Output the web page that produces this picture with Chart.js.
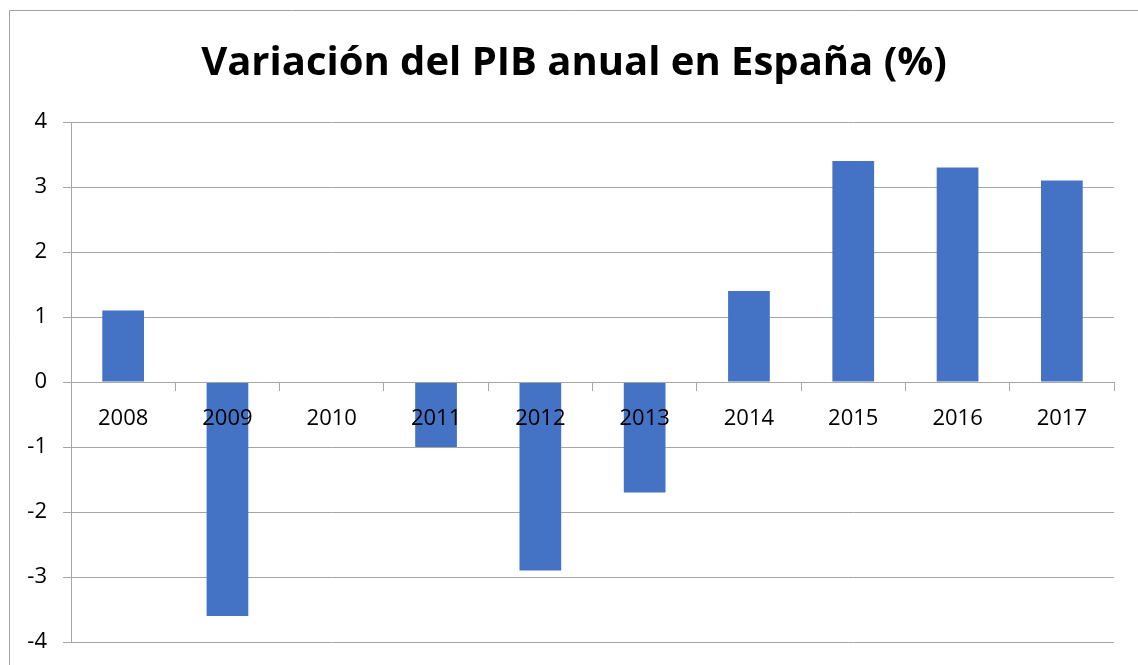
<!DOCTYPE html>
<html>
<head>
<meta charset="utf-8">
<script src="https://cdn.jsdelivr.net/npm/chart.js@4"></script>
<style>
    html, body { margin: 0; padding: 0; background: #fff; }
    #wrap { width: 1138px; height: 665px; }
</style>
</head>
<body>
<div id="wrap"><canvas id="pibChart"></canvas></div>
<script>
const years = ['2008', '2009', '2010', '2011', '2012', '2013', '2014', '2015', '2016', '2017'];
const pibValues = [1.1, -3.6, 0, -1.0, -2.9, -1.7, 1.4, 3.4, 3.3, 3.1];
const yTicks = [-4, -3, -2, -1, 0, 1, 2, 3, 4];

const gridGray = '#a6a6a6';

// marco gris del grafico (izquierda y arriba) + titulo algo desplazado a la derecha
const frame = {
    id: 'frame',
    afterLayout(chart) {
        if (chart.titleBlock) {
            chart.titleBlock.left = 34;
        }
    },
    beforeDraw(chart) {
        const ctx = chart.ctx;
        ctx.save();
        ctx.strokeStyle = '#a0a0a0';
        ctx.lineWidth = 1;
        ctx.beginPath();
        ctx.moveTo(9.5, chart.height);
        ctx.lineTo(9.5, 10.5);
        ctx.lineTo(chart.width, 10.5);
        ctx.stroke();
        ctx.restore();
    }
};

const data = {
    labels: years,
    datasets: [{
        label: 'PIB',
        backgroundColor: '#4472C4',
        borderWidth: 0,
        data: pibValues,
        barPercentage: 0.4,
        categoryPercentage: 1
    }]
};

const config = {
    type: 'bar',
    data: data,
    options: {
        responsive: true,
        maintainAspectRatio: false,
        animation: false,
        layout: { padding: { left: 0, right: 24, top: 0, bottom: 23 } },
        plugins: {
            legend: { display: false },
            tooltip: { enabled: false },
            title: {
                display: true,
                text: 'Variación del PIB anual en España (%)',
                color: '#000',
                font: { family: 'Open Sans', size: 40, weight: 'bold', lineHeight: 1.2 },
                padding: { top: 40, bottom: 34 }
            }
        },
        scales: {
            x: {
                position: { y: 0 },
                offset: true,
                grid: { display: true, offset: true, drawOnChartArea: false, drawTicks: true, tickLength: 8, color: gridGray },
                border: { display: true, color: gridGray, z: 1 },
                ticks: { z: 1, padding: 16, color: '#000', font: { family: 'Open Sans', size: 22 }, maxRotation: 0 }
            },
            y: {
                min: yTicks[0],
                max: yTicks[yTicks.length - 1],
                afterFit: (scale) => {
                    scale.width = 71;
                    scale.paddingTop = 0;
                    scale.paddingBottom = 0;
                },
                afterBuildTicks: (scale) => { scale.ticks = yTicks.map(v => ({ value: v })); },
                grid: { color: gridGray, tickLength: 8 },
                border: { display: true, color: gridGray },
                ticks: {
                    padding: 16,
                    color: '#000',
                    font: { family: 'Open Sans', size: 22 },
                    callback: (v) => String(v)
                }
            }
        }
    },
    plugins: [frame]
};

const myChart = new Chart(document.getElementById('pibChart'), config);
</script>
</body>
</html>
